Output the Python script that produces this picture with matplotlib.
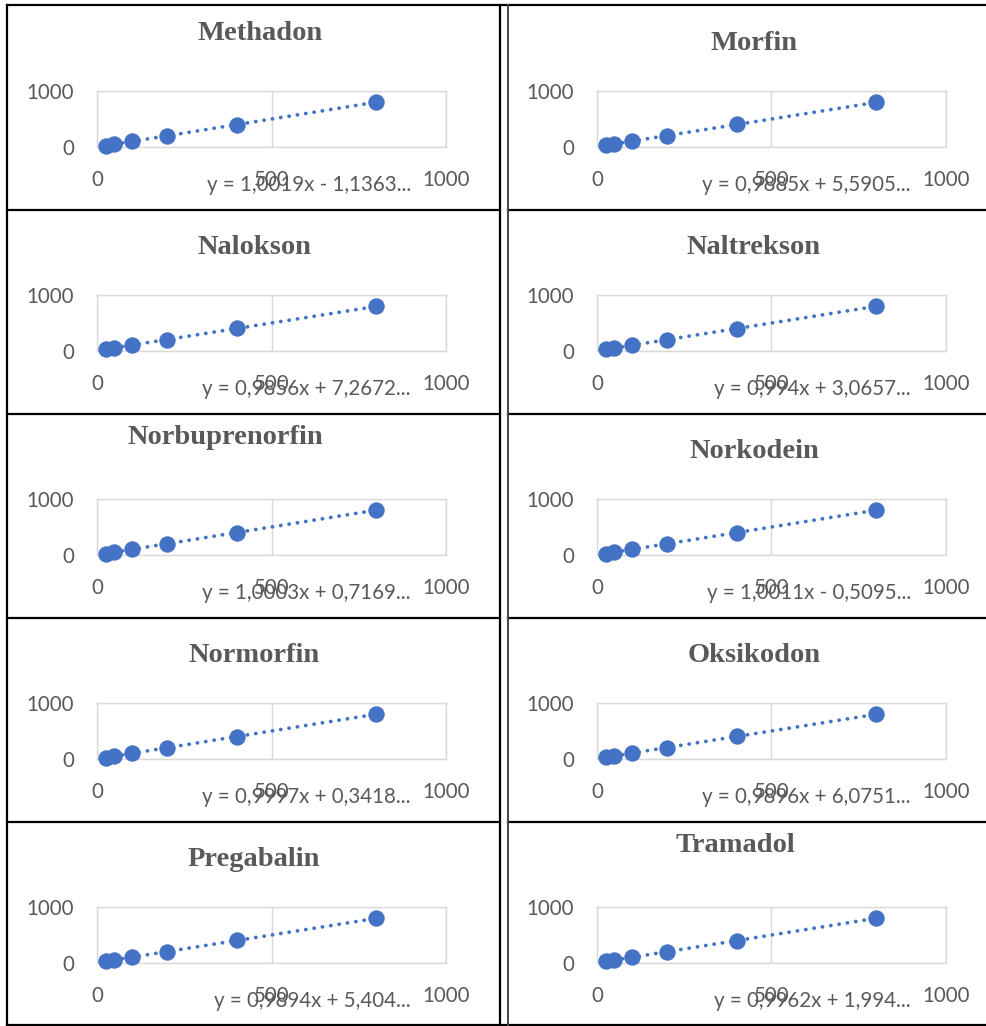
import matplotlib
matplotlib.use("Agg")
import matplotlib.pyplot as plt
from matplotlib.lines import Line2D
import numpy as np

W, H = 987, 1026

# Calibration levels (nominal concentration) and measured responses
conc = [25, 50, 100, 200, 400, 800]

names = ["Methadon", "Morfin", "Nalokson", "Naltrekson", "Norbuprenorfin",
         "Norkodein", "Normorfin", "Oksikodon", "Pregabalin", "Tramadol"]

measured = {
    "Methadon":       [24, 49, 99, 201, 399, 801],
    "Morfin":         [30, 55, 104, 203, 402, 796],
    "Nalokson":       [31, 57, 106, 204, 403, 795],
    "Naltrekson":     [28, 52, 102, 202, 401, 798],
    "Norbuprenorfin": [26, 51, 101, 200, 401, 800],
    "Norkodein":      [24, 50, 100, 200, 401, 800],
    "Normorfin":      [25, 50, 100, 200, 400, 800],
    "Oksikodon":      [31, 56, 105, 204, 402, 797],
    "Pregabalin":     [30, 55, 104, 203, 402, 797],
    "Tramadol":       [27, 52, 101, 201, 401, 799],
}

slopes = [1.0019, 0.9885, 0.9856, 0.994, 1.0003, 1.0011, 0.9997, 0.9896, 0.9894, 0.9962]
intercepts = [-1.1363, 5.5905, 7.2672, 3.0657, 0.7169, -0.5095, 0.3418, 6.0751, 5.404, 1.994]
eq_labels = ["y = 1,0019x - 1,1363...", "y = 0,9885x + 5,5905...",
             "y = 0,9856x + 7,2672...", "y = 0,994x + 3,0657...",
             "y = 1,0003x + 0,7169...", "y = 1,0011x - 0,5095...",
             "y = 0,9997x + 0,3418...", "y = 0,9896x + 6,0751...",
             "y = 0,9894x + 5,404...", "y = 0,9962x + 1,994..."]

x_ticks = [0, 500, 1000]
y_ticks = [0, 1000]

# Layout of the table cells (pixels)
row_plot = [(91, 147), (295, 351), (499, 555), (703, 759), (907, 963)]
title_y = [(33, 43), (247, 247), (437, 451), (656, 656), (860, 845)]
title_x = [(260, 754), (254, 754), (225, 754), (254, 754), (254, 735)]
col_plot = [(97, 446), (597, 946)]
eq_right = [411, 911]

BLUE = "#4472C4"
GREY = "#595959"
GRID = "#D9D9D9"
SANS = ["Lato", "DejaVu Sans"]
SERIF = ["Liberation Serif", "DejaVu Serif"]
FS = 14.8

fig = plt.figure(figsize=(W / 100, H / 100), dpi=100)
fig.patch.set_facecolor("white")


def fx(px):
    return px / W


def fy(py):
    return 1 - py / H


for i, name in enumerate(names):
    r, c = divmod(i, 2)
    top, bot = row_plot[r]
    left, right = col_plot[c]
    ax = fig.add_axes([fx(left), fy(bot), fx(right) - fx(left), (bot - top) / H])
    ax.set_xlim(0, 1000)
    ax.set_ylim(0, 1000)
    ax.set_xticks(x_ticks)
    ax.set_yticks(y_ticks)
    ax.grid(True, color=GRID, linewidth=1.0)
    ax.set_axisbelow(True)
    for s in ax.spines.values():
        s.set_color(GRID)
        s.set_linewidth(1.0)
    ax.tick_params(axis="x", length=0, pad=16.5, labelsize=FS, labelcolor=GREY)
    ax.tick_params(axis="y", length=0, pad=16.5, labelsize=FS, labelcolor=GREY)
    for lab in ax.get_xticklabels() + ax.get_yticklabels():
        lab.set_family(SANS)

    # linear trendline over the calibration range
    xs = np.array([min(conc), max(conc)], dtype=float)
    ax.plot(xs, slopes[i] * xs + intercepts[i], color=BLUE, lw=2.7,
            linestyle=(0, (0.05, 2.2)), dash_capstyle="round", zorder=2, clip_on=False)
    ax.plot(conc, measured[name], "o", color=BLUE, markersize=11.8,
            markeredgewidth=0, zorder=3, clip_on=False)

    fig.text(fx(title_x[r][c]), fy(title_y[r][c]), name, ha="center", va="center",
             fontsize=20.5, fontweight="bold", color=GREY, family=SERIF)
    fig.text(fx(eq_right[c]), fy(bot + 38), eq_labels[i], ha="right", va="center",
             fontsize=FS, color=GREY, family=SANS)

# Table borders
def hline(y, x0, x1, color="black", lw=1.6):
    fig.add_artist(Line2D([fx(x0), fx(x1)], [fy(y), fy(y)], color=color, lw=lw,
                          transform=fig.transFigure))


def vline(x, y0, y1, color="black", lw=1.6):
    fig.add_artist(Line2D([fx(x), fx(x)], [fy(y0), fy(y1)], color=color, lw=lw,
                          transform=fig.transFigure))


hline(5, 7, 987)
hline(1025, 7, 987)
for y in [210, 414, 618, 822]:
    hline(y, 7, 500)
    hline(y, 508, 987)
vline(7.5, 5, 1026)
vline(500, 5, 1026)
vline(508, 5, 1026, color="#444444", lw=1.4)

fig.savefig("out.png", dpi=100, facecolor="white")
